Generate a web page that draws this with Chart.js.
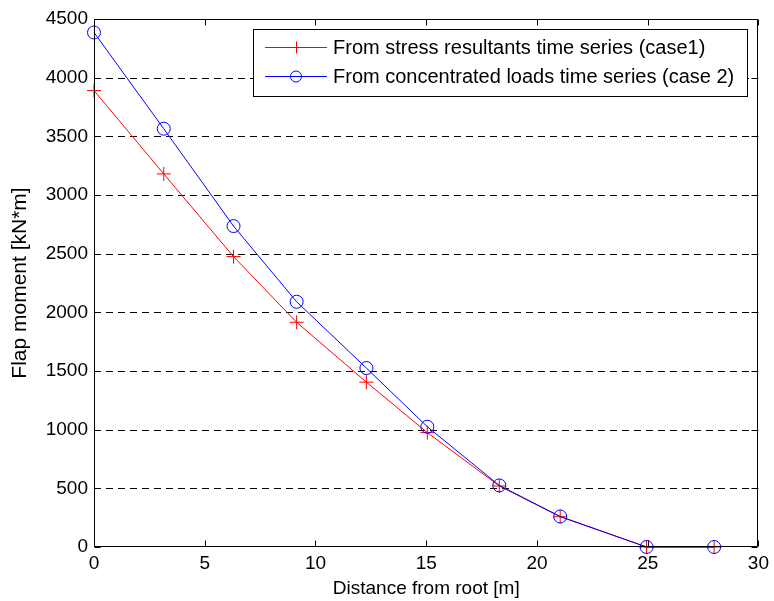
<!DOCTYPE html>
<html>
<head>
<meta charset="utf-8">
<script src="https://cdn.jsdelivr.net/npm/chart.js@4"></script>
<style>
  html, body { margin: 0; padding: 0; background: #fff; }
  canvas { display: block; }
</style>
</head>
<body>
<canvas id="flapChart" width="774" height="601"></canvas>
<script>
// distance from the blade root [m]
const distance = [0, 3.15, 6.3, 9.15, 12.3, 15.05, 18.3, 21.05, 24.95, 28.0];
// flap moment [kN*m]
const case1 = [3890, 3180, 2475, 1915, 1405, 975, 520, 258, 0, 0];
const case2 = [4385, 3565, 2735, 2090, 1525, 1025, 525, 260, 0, 0];

const seriesNames = [
  'From stress resultants time series (case1)',
  'From concentrated loads time series (case 2)'
];
const xTicks = [0, 5, 10, 15, 20, 25, 30];
const yTicks = [0, 500, 1000, 1500, 2000, 2500, 3000, 3500, 4000, 4500];

const FONT = 'Liberation Sans, Arial, sans-serif';

// frame, dashed grid and inward tick marks
const framePlugin = {
  id: 'frame',
  beforeDatasetsDraw(chart) {
    const { ctx, chartArea: a, scales } = chart;
    ctx.save();
    ctx.strokeStyle = '#000';
    ctx.lineWidth = 1;
    ctx.setLineDash([7, 5]);
    yTicks.slice(1, -1).forEach(v => {
      const y = Math.round(scales.y.getPixelForValue(v)) + 0.5;
      ctx.beginPath();
      ctx.moveTo(a.left, y);
      ctx.lineTo(a.right, y);
      ctx.stroke();
    });
    ctx.restore();
  },
  afterDraw(chart) {
    const { ctx, chartArea: a, scales } = chart;
    const L = Math.round(a.left) + 0.5, R = Math.round(a.right) - 0.5;
    const T = Math.round(a.top) + 0.5, B = Math.round(a.bottom) - 0.5;
    ctx.save();
    ctx.strokeStyle = '#000';
    ctx.lineWidth = 1;
    ctx.beginPath();
    ctx.rect(L, T, R - L, B - T);
    const len = 6;
    xTicks.forEach(v => {
      const x = Math.round(scales.x.getPixelForValue(v)) + 0.5;
      ctx.moveTo(x, B); ctx.lineTo(x, B - len);
      ctx.moveTo(x, T); ctx.lineTo(x, T + len);
    });
    yTicks.forEach(v => {
      const y = Math.round(scales.y.getPixelForValue(v)) + 0.5;
      ctx.moveTo(L, y); ctx.lineTo(L + len, y);
      ctx.moveTo(R, y); ctx.lineTo(R - len, y);
    });
    ctx.stroke();

    // legend box
    const bx = 253.5, by = 29.5, bw = 494, bh = 67;
    ctx.fillStyle = '#fff';
    ctx.fillRect(bx, by, bw, bh);
    ctx.strokeRect(bx, by, bw, bh);
    ctx.font = '20px ' + FONT;
    ctx.textBaseline = 'middle';
    ctx.fillStyle = '#000';
    const rows = [
      { y: 47.5, color: '#ff0000', style: 'cross', text: seriesNames[0] },
      { y: 76.5, color: '#0000ff', style: 'circle', text: seriesNames[1] }
    ];
    rows.forEach(r => {
      ctx.strokeStyle = r.color;
      ctx.beginPath();
      ctx.moveTo(265, r.y); ctx.lineTo(327, r.y);
      ctx.stroke();
      ctx.beginPath();
      if (r.style === 'cross') {
        ctx.moveTo(296.5, r.y - 6); ctx.lineTo(296.5, r.y + 6);
        ctx.moveTo(290, r.y); ctx.lineTo(303, r.y);
      } else {
        ctx.arc(296, r.y, 5.5, 0, Math.PI * 2);
      }
      ctx.stroke();
      ctx.fillText(r.text, 333, r.y + 1);
    });
    ctx.restore();
  }
};

new Chart(document.getElementById('flapChart'), {
  type: 'line',
  data: {
    datasets: [
      {
        label: seriesNames[0],
        data: distance.map((d, i) => ({ x: d, y: case1[i] })),
        borderColor: '#ff0000',
        borderWidth: 1,
        pointStyle: 'cross',
        pointRadius: 7,
        pointBorderWidth: 1,
        pointBorderColor: '#ff0000',
        pointBackgroundColor: 'transparent',
        tension: 0,
        clip: false,
        order: 2
      },
      {
        label: seriesNames[1],
        data: distance.map((d, i) => ({ x: d, y: case2[i] })),
        borderColor: '#0000ff',
        borderWidth: 1,
        pointStyle: 'circle',
        pointRadius: 6.5,
        pointBorderWidth: 1,
        pointBorderColor: '#0000ff',
        pointBackgroundColor: 'transparent',
        tension: 0,
        clip: false,
        order: 1
      }
    ]
  },
  options: {
    responsive: false,
    animation: false,
    events: [],
    layout: { padding: { top: 19, right: 7, left: 0, bottom: 0 } },
    plugins: {
      legend: { display: false },
      tooltip: { enabled: false }
    },
    scales: {
      x: {
        type: 'linear',
        min: 0,
        max: 30,
        afterBuildTicks: s => { s.ticks = xTicks.map(v => ({ value: v })); },
        afterFit: s => { s.height = 54; },
        grid: { display: false, drawTicks: false },
        border: { display: false },
        ticks: {
          color: '#000',
          font: { family: FONT, size: 19 },
          padding: 5,
          maxRotation: 0,
          callback: v => String(v)
        },
        title: {
          display: true,
          text: 'Distance from root [m]',
          color: '#000',
          font: { family: FONT, size: 19 },
          padding: { top: 0, bottom: 1 }
        }
      },
      y: {
        min: 0,
        max: 4500,
        afterBuildTicks: s => { s.ticks = yTicks.map(v => ({ value: v })); },
        afterFit: s => { s.width = 94; },
        grid: { display: false, drawTicks: false },
        border: { display: false },
        ticks: {
          color: '#000',
          font: { family: FONT, size: 19 },
          padding: 6,
          callback: v => String(v)
        },
        title: {
          display: true,
          text: 'Flap moment [kN*m]',
          color: '#000',
          font: { family: FONT, size: 21 },
          padding: { top: 8, bottom: 0 }
        }
      }
    }
  },
  plugins: [framePlugin]
});
</script>
</body>
</html>
